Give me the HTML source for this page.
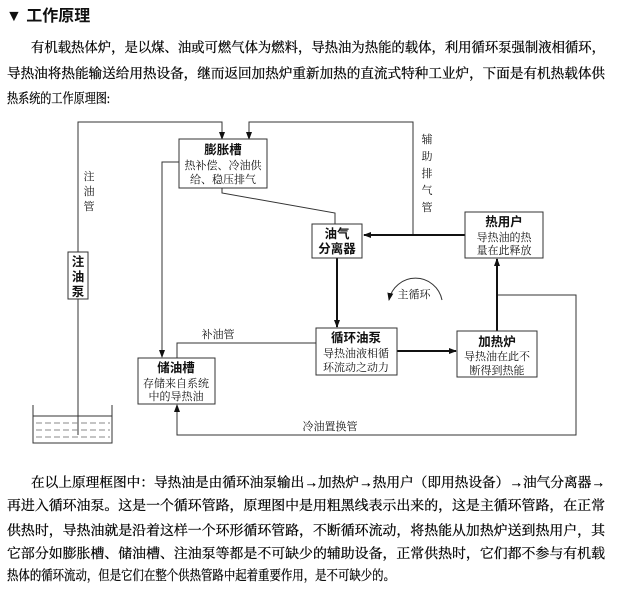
<!DOCTYPE html>
<html><head><meta charset="utf-8"><style>
html,body{margin:0;padding:0;background:#fff;width:618px;height:599px;overflow:hidden}
svg{display:block}
.s{font-family:"Liberation Serif","Noto Serif CJK SC",serif;font-size:13.5px;fill:#000;stroke:#000;stroke-width:0.25}
.b{font-family:"Liberation Sans","Noto Sans CJK SC",sans-serif;font-size:12.5px;font-weight:bold;fill:#111}
.t{font-family:"Liberation Serif","Noto Serif CJK SC",serif;font-size:11px;fill:#111}
</style></head><body>
<svg width="618" height="599" viewBox="0 0 618 599" xmlns="http://www.w3.org/2000/svg">
<defs>
<marker id="a" markerWidth="8" markerHeight="8" refX="7" refY="4" orient="auto" markerUnits="userSpaceOnUse"><path d="M0,1 L8,4 L0,7 Z" fill="#111"/></marker>
</defs>
<text x="6" y="21" font-family="Liberation Sans,Noto Sans CJK SC,sans-serif" font-size="16" font-weight="bold" fill="#111">▼ 工作原理</text>
<text class="s" x="31" y="52" textLength="574" lengthAdjust="spacingAndGlyphs">有机载热体炉，是以煤、油或可燃气体为燃料，导热油为热能的载体，利用循环泵强制液相循环，</text>
<text class="s" x="7" y="78" textLength="598" lengthAdjust="spacingAndGlyphs">导热油将热能输送给用热设备，继而返回加热炉重新加热的直流式特种工业炉，下面是有机热载体供</text>
<text class="s" x="7" y="103" textLength="103" lengthAdjust="spacingAndGlyphs">热系统的工作原理图:</text>

<g fill="none" stroke="#333" stroke-width="1">
<polyline points="78,252 78,122 222,122 222,139" marker-end="url(#a)"/>
<polyline points="413,235 413,122 249,122 249,139" marker-end="url(#a)"/>
<line x1="78" y1="299" x2="78" y2="435"/>
<polyline points="179,162 162,162 162,357" marker-end="url(#a)"/>
<polyline points="222,188 222,193 335,213 335,224"/>
<polyline points="177,358 177,343 316,343"/>
<polyline points="497,295 576,295 576,435 177,435 177,405" marker-end="url(#a)"/>
<polyline points="33,405 33,443 112,443 112,405"/>
<line x1="33" y1="416" x2="112" y2="416"/>
<g stroke-dasharray="6,3" stroke="#888"><line x1="36" y1="423" x2="110" y2="423"/><line x1="36" y1="430" x2="110" y2="430"/><line x1="36" y1="437" x2="110" y2="437"/></g>
<path d="M442,300 A27,27 0 0 0 389,300" marker-end="url(#a)"/>
</g>
<g fill="none" stroke="#111" stroke-width="2">
<line x1="465" y1="235" x2="364" y2="235" marker-end="url(#a)"/>
<line x1="337" y1="258" x2="337" y2="327" marker-end="url(#a)"/>
<line x1="397" y1="351" x2="456" y2="351" marker-end="url(#a)"/>
<line x1="497" y1="331" x2="497" y2="259" marker-end="url(#a)"/>
</g>
<g fill="#fff" stroke="#333" stroke-width="1">
<rect x="179" y="139" width="88" height="49"/>
<rect x="68" y="252" width="20" height="47"/>
<rect x="138" y="358" width="77" height="46"/>
<rect x="312" y="224" width="50" height="34"/>
<rect x="465" y="212" width="78" height="46"/>
<rect x="316" y="328" width="81" height="47"/>
<rect x="457" y="331" width="80" height="46"/>
</g>
<g text-anchor="middle">
<text class="b" x="223" y="154">膨胀槽</text>
<text class="t" x="223" y="169">热补偿、冷油供</text>
<text class="t" x="223" y="183">给、稳压排气</text>
<text class="b" x="78" y="266">注</text><text class="b" x="78" y="281">油</text><text class="b" x="78" y="296">泵</text>
<text class="t" x="89" y="180">注</text><text class="t" x="89" y="195">油</text><text class="t" x="89" y="210">管</text>
<text class="b" x="176" y="372">储油槽</text>
<text class="t" x="176" y="387">存储来自系统</text>
<text class="t" x="176" y="400">中的导热油</text>
<text class="b" x="337" y="238">油气</text>
<text class="b" x="337" y="253">分离器</text>
<text class="b" x="504" y="226">热用户</text>
<text class="t" x="504" y="241">导热油的热</text>
<text class="t" x="504" y="254">量在此释放</text>
<text class="b" x="356" y="342">循环油泵</text>
<text class="t" x="356" y="357">导热油液相循</text>
<text class="t" x="356" y="371">环流动之动力</text>
<text class="b" x="497" y="346">加热炉</text>
<text class="t" x="497" y="360">导热油在此不</text>
<text class="t" x="497" y="374">断得到热能</text>
<text class="t" x="427" y="143">辅</text><text class="t" x="427" y="160">助</text><text class="t" x="427" y="177">排</text><text class="t" x="427" y="194">气</text><text class="t" x="427" y="211">管</text>
<text class="t" x="218" y="338">补油管</text>
<text class="t" x="330" y="430">冷油置换管</text>
<text class="t" x="414" y="298">主循环</text>
</g>

<text class="s" x="31" y="487" textLength="574" lengthAdjust="spacingAndGlyphs">在以上原理框图中：导热油是由循环油泵输出→加热炉→热用户（即用热设备）→油气分离器→</text>
<text class="s" x="7" y="510" textLength="598" lengthAdjust="spacingAndGlyphs">再进入循环油泵。这是一个循环管路，原理图中是用粗黑线表示出来的，这是主循环管路，在正常</text>
<text class="s" x="7" y="535" textLength="598" lengthAdjust="spacingAndGlyphs">供热时，导热油就是沿着这样一个环形循环管路，不断循环流动，将热能从加热炉送到热用户，其</text>
<text class="s" x="7" y="558" textLength="598" lengthAdjust="spacingAndGlyphs">它部分如膨胀槽、储油槽、注油泵等都是不可缺少的辅助设备，正常供热时，它们都不参与有机载</text>
<text class="s" x="7" y="580" textLength="388" lengthAdjust="spacingAndGlyphs">热体的循环流动，但是它们在整个供热管路中起着重要作用，是不可缺少的。</text>
</svg>
</body></html>
